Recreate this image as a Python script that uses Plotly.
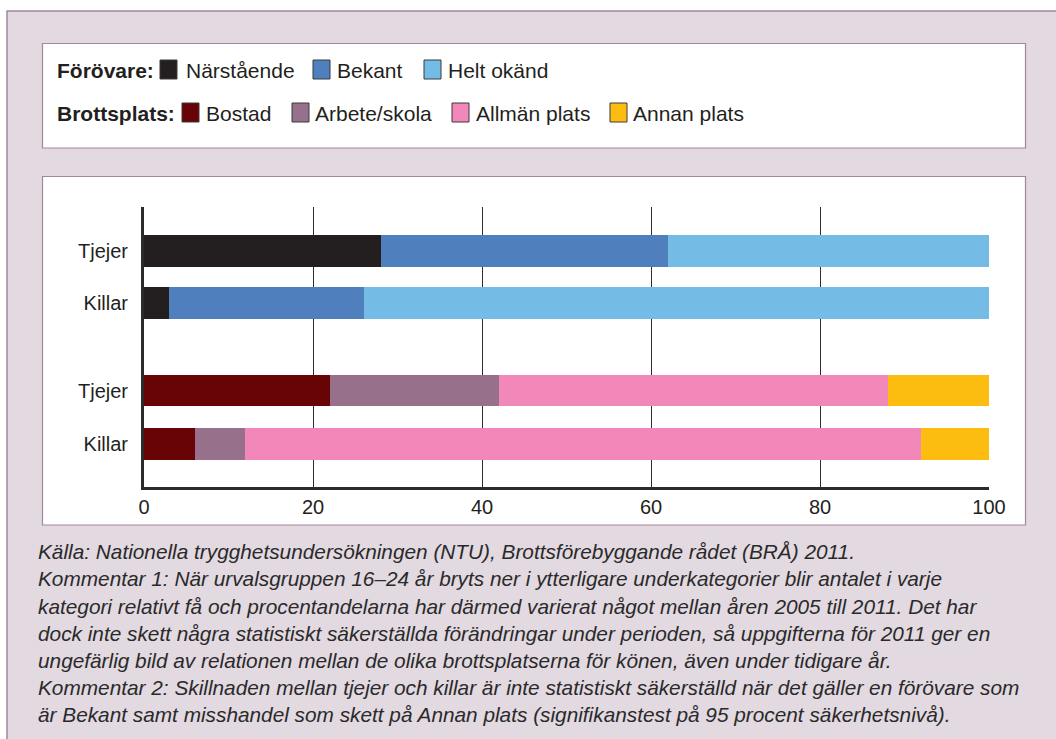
import plotly.graph_objects as go

# ---------------- data ----------------
groups = ["Tjejer", "Killar"]

forovare_names = ["Närstående", "Bekant", "Helt okänd"]
forovare_values = {
    "Närstående": [28, 3],
    "Bekant": [34, 23],
    "Helt okänd": [38, 74],
}
forovare_colors = ["#231f20", "#4f80bd", "#74bbe6"]

plats_names = ["Bostad", "Arbete/skola", "Allmän plats", "Annan plats"]
plats_values = {
    "Bostad": [22, 6],
    "Arbete/skola": [20, 6],
    "Allmän plats": [46, 80],
    "Annan plats": [12, 8],
}
plats_colors = ["#680406", "#97708b", "#f188b9", "#fdbd10"]

x_ticks = [0, 20, 40, 60, 80, 100]

footnotes = [
    "Källa: Nationella trygghetsundersökningen (NTU), Brottsförebyggande rådet (BRÅ) 2011.",
    "Kommentar 1: När urvalsgruppen 16–24 år bryts ner i ytterligare underkategorier blir antalet i varje",
    "kategori relativt få och procentandelarna har därmed varierat något mellan åren 2005 till 2011. Det har",
    "dock inte skett några statistiskt säkerställda förändringar under perioden, så uppgifterna för 2011 ger en",
    "ungefärlig bild av relationen mellan de olika brottsplatserna för könen, även under tidigare år.",
    "Kommentar 2: Skillnaden mellan tjejer och killar är inte statistiskt säkerställd när det gäller en förövare som",
    "är Bekant samt misshandel som skett på Annan plats (signifikanstest på 95 procent säkerhetsnivå).",
]

# ---------------- layout geometry ----------------
W_PX, H_PX = 1056, 739
L, T = 144, 207
PW, PH = 845, 280
R = W_PX - L - PW
B = H_PX - T - PH

def px(X):  # X in screen pixels
    return (X - L) / PW

def py(Y):
    return (T + PH - Y) / PH

pos_forovare = [0, 1]
pos_plats = [2.69, 3.71]
bar_w = 0.6

FONT = "Liberation Sans, Arial, Helvetica, sans-serif"
TXT = "#231f20"
MAUVE_BG = "#e2d9e1"
MAUVE_LINE = "#a3869c"

fig = go.Figure()

for name, col in zip(forovare_names, forovare_colors):
    fig.add_trace(go.Bar(
        x=forovare_values[name], y=pos_forovare, orientation="h",
        marker=dict(color=col, line=dict(width=0)), width=bar_w,
        name=name, showlegend=False, hoverinfo="x+name",
    ))
for name, col in zip(plats_names, plats_colors):
    fig.add_trace(go.Bar(
        x=plats_values[name], y=pos_plats, orientation="h",
        marker=dict(color=col, line=dict(width=0)), width=bar_w,
        name=name, showlegend=False, hoverinfo="x+name",
    ))

shapes = []
annotations = []

# outer mauve panel
shapes.append(dict(type="rect", xref="paper", yref="paper",
                   x0=px(7), x1=px(1080), y0=py(11), y1=py(780),
                   fillcolor=MAUVE_BG, line=dict(color=MAUVE_LINE, width=1.5), layer="below"))
# legend box
shapes.append(dict(type="rect", xref="paper", yref="paper",
                   x0=px(42.5), x1=px(1025.5), y0=py(43.5), y1=py(148),
                   fillcolor="white", line=dict(color=MAUVE_LINE, width=1.2), layer="below"))
# chart box
shapes.append(dict(type="rect", xref="paper", yref="paper",
                   x0=px(42.5), x1=px(1025.5), y0=py(176.5), y1=py(525),
                   fillcolor="white", line=dict(color=MAUVE_LINE, width=1.2), layer="below"))

# legend rows
def legend_row(title, title_x, yc, items):
    annotations.append(dict(text="<b>" + title + "</b>", x=px(title_x), y=py(yc),
                            xref="paper", yref="paper", xanchor="left", yanchor="middle",
                            showarrow=False, font=dict(family=FONT, size=21, color=TXT)))
    for (label, col, sx, tx) in items:
        shapes.append(dict(type="rect", xref="paper", yref="paper",
                           x0=px(sx), x1=px(sx + 17), y0=py(yc - 10), y1=py(yc + 9),
                           fillcolor=col, line=dict(color="#3a3a3a", width=1), layer="above"))
        annotations.append(dict(text=label, x=px(tx), y=py(yc), xref="paper", yref="paper",
                                xanchor="left", yanchor="middle", showarrow=False,
                                font=dict(family=FONT, size=21, color=TXT)))

legend_row("Förövare:", 55, 70, [
    (forovare_names[0], forovare_colors[0], 160, 184),
    (forovare_names[1], forovare_colors[1], 313, 335),
    (forovare_names[2], forovare_colors[2], 424, 446),
])
legend_row("Brottsplats:", 55, 113, [
    (plats_names[0], plats_colors[0], 182, 204),
    (plats_names[1], plats_colors[1], 292, 313),
    (plats_names[2], plats_colors[2], 452, 474),
    (plats_names[3], plats_colors[3], 610, 631),
])

# footnotes
foot_y = [551, 578.5, 606, 633, 660, 687.5, 714.5]
for line, yc in zip(footnotes, foot_y):
    annotations.append(dict(text="<i>" + line + "</i>", x=px(36), y=py(yc),
                            xref="paper", yref="paper", xanchor="left", yanchor="middle",
                            showarrow=False, font=dict(family=FONT, size=20.8, color="#2a2a2a")))

fig.update_layout(
    width=W_PX, height=H_PX,
    margin=dict(l=L, r=R, t=T, b=B, pad=0),
    paper_bgcolor="white",
    plot_bgcolor="rgba(0,0,0,0)",
    barmode="stack",
    bargap=0,
    shapes=shapes,
    annotations=annotations,
    font=dict(family=FONT, size=20, color=TXT),
    xaxis=dict(
        range=[0, 100], tickvals=x_ticks, ticktext=[str(v) for v in x_ticks],
        showgrid=True, gridcolor="#2e2e2e", gridwidth=1,
        zeroline=False, showline=True, linecolor="#2b2b2b", linewidth=3,
        ticks="", tickfont=dict(family=FONT, size=20, color=TXT),
        ticklabelstandoff=0, fixedrange=True,
    ),
    yaxis=dict(
        range=[4.538, -0.846], tickvals=pos_forovare + pos_plats,
        ticktext=groups + groups,
        showgrid=False, zeroline=False, showline=True, linecolor="#2b2b2b", linewidth=3,
        ticks="", tickfont=dict(family=FONT, size=20, color=TXT),
        ticklabelstandoff=9, fixedrange=True,
    ),
)

fig.write_html(
    "out.html",
    config={"displayModeBar": False},
    post_script="document.body.style.margin='0';document.body.style.overflow='hidden';",
)
